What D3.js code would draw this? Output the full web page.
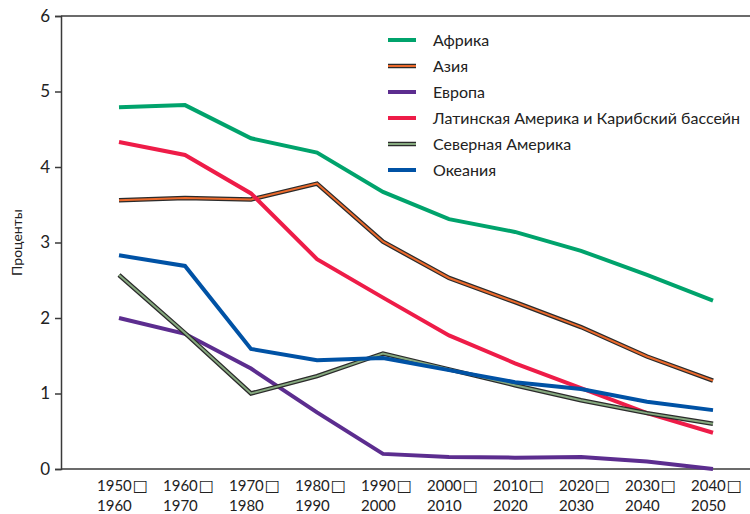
<!DOCTYPE html>
<html>
<head>
<meta charset="utf-8">
<script src="https://cdn.jsdelivr.net/npm/d3@7"></script>
<style>
  body { margin: 0; background: #fff; }
  svg { display: block; font-family: Lato, "Open Sans", sans-serif; }
</style>
</head>
<body>
<div id="chart"></div>
<script>
// periods (two-line tick labels)
var periodStart = ["1950", "1960", "1970", "1980", "1990", "2000", "2010", "2020", "2030", "2040"];
var periodEnd   = ["1960", "1970", "1980", "1990", "2000", "2010", "2020", "2030", "2040", "2050"];
var yTicks = [0, 1, 2, 3, 4, 5, 6];

// values, percent
var africa   = [4.79, 4.82, 4.38, 4.19, 3.67, 3.31, 3.14, 2.89, 2.57, 2.23];
var asia     = [3.56, 3.59, 3.57, 3.78, 3.01, 2.53, 2.21, 1.88, 1.49, 1.17];
var europe   = [2.00, 1.79, 1.33, 0.75, 0.20, 0.16, 0.15, 0.16, 0.10, 0.00];
var latam    = [4.33, 4.16, 3.65, 2.78, 2.27, 1.77, 1.40, 1.07, 0.74, 0.48];
var northAm  = [2.57, 1.80, 1.00, 1.23, 1.53, 1.32, 1.11, 0.91, 0.74, 0.60];
var oceania  = [2.83, 2.69, 1.59, 1.44, 1.47, 1.31, 1.15, 1.06, 0.89, 0.78];

var seriesNames = ["Африка", "Азия", "Европа", "Латинская Америка и Карибский бассейн", "Северная Америка", "Океания"];

var series = [
  {name: seriesNames[0], values: africa,  color: "#00a36c", outline: null},
  {name: seriesNames[1], values: asia,    color: "#ec6a2c", outline: "#2b2b2b"},
  {name: seriesNames[2], values: europe,  color: "#5c2d8f", outline: null},
  {name: seriesNames[3], values: latam,   color: "#ee1c48", outline: null},
  {name: seriesNames[4], values: northAm, color: "#86a97f", outline: "#2b2b2b"},
  {name: seriesNames[5], values: oceania, color: "#0052a5", outline: null}
];

var width = 750, height = 514;
var svg = d3.select("#chart").append("svg")
    .attr("width", width)
    .attr("height", height);

var axisLeftX = 61, plotRight = 750, yTop = 16, yBottom = 469;

var x = d3.scalePoint().domain(periodStart).range([119, 713]);
var y = d3.scaleLinear().domain([0, 6]).range([yBottom, yTop]);

// y axis
var yAxis = svg.append("g")
    .attr("transform", "translate(" + axisLeftX + ",0)")
    .call(d3.axisLeft(y).tickValues(yTicks).tickFormat(d3.format("d")).tickSize(6).tickPadding(5));
yAxis.select(".domain").attr("stroke", "#3a3a3a").attr("stroke-width", 1.5);
yAxis.selectAll(".tick line").attr("stroke", "#3a3a3a").attr("stroke-width", 1.5);
yAxis.selectAll(".tick text")
    .attr("font-size", 17)
    .attr("fill", "#222")
    .attr("font-family", "Lato, sans-serif");

// top and bottom frame lines
svg.append("line")
    .attr("x1", axisLeftX).attr("x2", plotRight)
    .attr("y1", y(6)).attr("y2", y(6))
    .attr("stroke", "#3a3a3a").attr("stroke-width", 1.5);
svg.append("line")
    .attr("x1", axisLeftX).attr("x2", plotRight)
    .attr("y1", y(0)).attr("y2", y(0))
    .attr("stroke", "#3a3a3a").attr("stroke-width", 1.5);

// x tick labels
var xl = svg.append("g").selectAll("text")
    .data(periodStart)
    .enter().append("text")
    .attr("x", function(d) { return x(d) - 22; })
    .attr("y", 491)
    .attr("font-size", 15)
    .attr("fill", "#222");
xl.append("tspan").text(function(d) { return d; });
xl.append("tspan")
    .attr("font-family", "DejaVu Sans")
    .attr("font-size", 16)
    .attr("dx", 1)
    .text("\u25A1");
xl.append("tspan")
    .attr("x", function(d) { return x(d) - 22; })
    .attr("dy", 20)
    .text(function(d, i) { return periodEnd[i]; });

// y title
svg.append("text")
    .attr("transform", "translate(22," + y(3) + ") rotate(-90)")
    .attr("text-anchor", "middle")
    .attr("font-size", 14)
    .attr("fill", "#222")
    .text("Проценты");

// lines
var line = d3.line()
    .x(function(d, i) { return x(periodStart[i]); })
    .y(function(d) { return y(d); });

var g = svg.append("g");
series.forEach(function(s) {
  if (s.outline) {
    g.append("path").datum(s.values)
      .attr("d", line).attr("fill", "none")
      .attr("stroke", s.outline).attr("stroke-width", 4.5);
    g.append("path").datum(s.values)
      .attr("d", line).attr("fill", "none")
      .attr("stroke", s.color).attr("stroke-width", 2);
  } else {
    g.append("path").datum(s.values)
      .attr("d", line).attr("fill", "none")
      .attr("stroke", s.color).attr("stroke-width", 4);
  }
});

// legend
var legend = svg.append("g").attr("transform", "translate(388,40)");
var item = legend.selectAll("g").data(series).enter().append("g")
    .attr("transform", function(d, i) { return "translate(0," + i * 26 + ")"; });
item.each(function(s) {
  var el = d3.select(this);
  if (s.outline) {
    el.append("line").attr("x1", 0).attr("x2", 28).attr("y1", 0).attr("y2", 0)
      .attr("stroke", s.outline).attr("stroke-width", 4.5);
    el.append("line").attr("x1", 0).attr("x2", 28).attr("y1", 0).attr("y2", 0)
      .attr("stroke", s.color).attr("stroke-width", 2);
  } else {
    el.append("line").attr("x1", 0).attr("x2", 28).attr("y1", 0).attr("y2", 0)
      .attr("stroke", s.color).attr("stroke-width", 4);
  }
});
item.append("text")
    .attr("x", 45).attr("y", 0).attr("dy", "0.35em")
    .attr("font-size", 16)
    .attr("fill", "#222")
    .text(function(d) { return d.name; });
</script>
</body>
</html>
